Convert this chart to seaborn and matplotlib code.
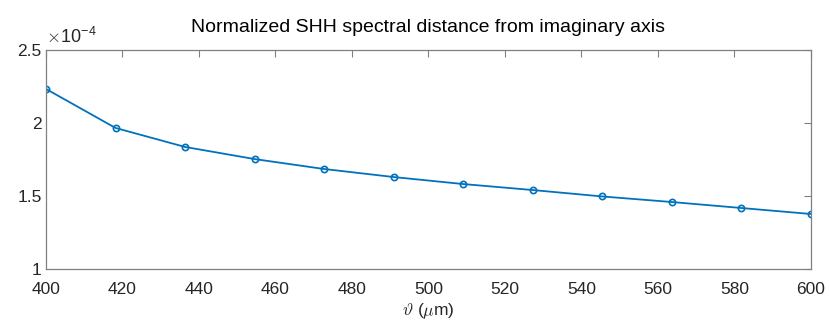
import numpy as np
import pandas as pd
import matplotlib
matplotlib.use("Agg")
import matplotlib.pyplot as plt
import seaborn as sns
from matplotlib.ticker import FuncFormatter

# datos
theta = np.linspace(400, 600, 12)  # 12 puntos equiespaciados
dist = [2.233, 1.966, 1.836, 1.753, 1.685, 1.630, 1.582, 1.541, 1.497, 1.459, 1.418, 1.377]
escala = 1e-4

df = pd.DataFrame({"theta": theta, "dist": np.array(dist) * escala})

sns.set_theme(style="white")
plt.rcParams['font.family'] = ['Liberation Sans', 'DejaVu Sans']
plt.rcParams['mathtext.fontset'] = 'cm'

gris = '#262626'
fig = plt.figure(figsize=(8.3, 3.33), dpi=100)
ax = fig.add_axes([0.0554, 0.192, 0.9216, 0.658])

sns.lineplot(data=df, x="theta", y="dist", ax=ax, color='#0072BD', lw=1.3,
             marker='o', markersize=4.5, markerfacecolor='none',
             markeredgecolor='#0072BD', markeredgewidth=1.2)

ax.set_xlim(400, 600)
ax.set_ylim(1e-4, 2.5e-4)
ax.set_xticks(np.arange(400, 601, 20))
ax.set_yticks(np.arange(1, 2.51, 0.5) * escala)

# etiquetas estilo matlab: 1, 1.5, 2, 2.5
ax.yaxis.set_major_formatter(FuncFormatter(lambda v, p: '%g' % round(v / escala, 4)))
ax.text(0.0, 1.012, r'$\times$10$^{\mathregular{-4}}$', transform=ax.transAxes,
        fontsize=13, color=gris, ha='left', va='bottom')

for s in ax.spines.values():
    s.set_color('#808080')
    s.set_linewidth(0.9)
ax.tick_params(direction='in', length=5, width=0.8, colors='#808080',
               labelcolor=gris, labelsize=12.5, top=True, right=True, pad=3)
ax.tick_params(axis='x', pad=9)

ax.set_title('Normalized SHH spectral distance from imaginary axis', fontsize=14, color='black', pad=13)
ax.set_xlabel(r'$\vartheta$ ($\mu$m)', fontsize=12.5, color=gris, labelpad=3)
ax.set_ylabel('')

fig.savefig('out.png', dpi=100)
